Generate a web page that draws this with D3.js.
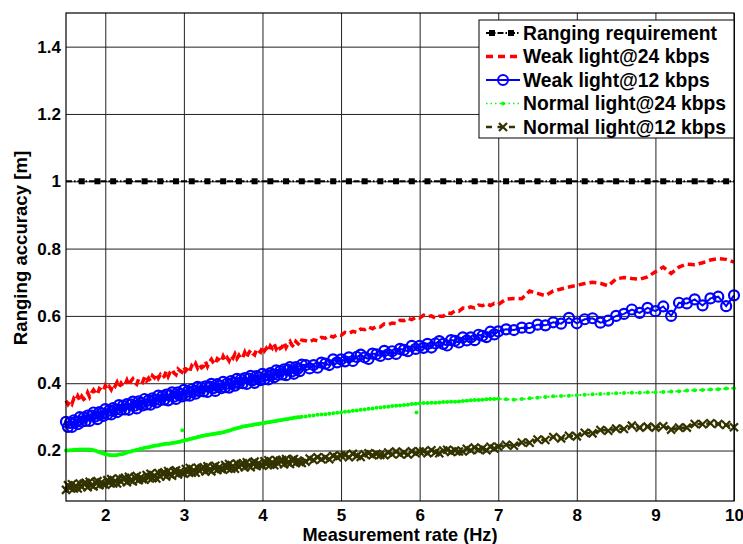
<!DOCTYPE html>
<html>
<head>
<meta charset="utf-8">
<script src="https://cdn.jsdelivr.net/npm/d3@7"></script>
<style>
  body { margin: 0; background: #fff; }
  text { font-family: "Liberation Sans", Arial, sans-serif; font-weight: bold; }
</style>
</head>
<body>
<svg></svg>
<script>
var screen = {width: 743, height: 544}
var margins = {top: 13, right: 9, bottom: 43, left: 66}

// measurement rate (Hz), shared by the four measured series (denser at low rates)
var rate = [1.5,1.525,1.55,1.575,1.6,1.625,1.65,1.675,1.7,1.725,
  1.75,1.775,1.8,1.825,1.85,1.875,1.9,1.925,1.95,1.975,
  2.0,2.025,2.05,2.075,2.1,2.125,2.15,2.175,2.2,2.225,
  2.25,2.275,2.3,2.325,2.35,2.375,2.4,2.425,2.45,2.475,
  2.5,2.525,2.55,2.575,2.6,2.625,2.65,2.675,2.7,2.725,
  2.75,2.775,2.8,2.825,2.85,2.875,2.9,2.925,2.95,2.975,
  3.0,3.025,3.05,3.075,3.1,3.125,3.15,3.175,3.2,3.225,
  3.25,3.275,3.3,3.325,3.35,3.375,3.4,3.425,3.45,3.475,
  3.5,3.525,3.55,3.575,3.6,3.625,3.65,3.675,3.7,3.725,
  3.75,3.775,3.8,3.825,3.85,3.875,3.9,3.925,3.95,3.975,
  4.0,4.025,4.05,4.075,4.1,4.125,4.15,4.175,4.2,4.225,
  4.25,4.275,4.3,4.325,4.35,4.375,4.4,4.425,4.45,4.475,
  4.5,
  4.55,4.6,4.65,4.7,4.75,4.8,4.85,4.9,4.95,5.0,
  5.05,5.1,5.15,5.2,5.25,5.3,5.35,5.4,5.45,5.5,
  5.55,5.6,5.65,5.7,5.75,5.8,5.85,5.9,5.95,6.0,
  6.05,6.1,6.15,6.2,6.25,6.3,6.35,6.4,6.45,6.5,
  6.55,6.6,6.65,6.7,6.75,6.8,6.85,6.9,6.95,7.0,
  7.1,7.2,7.3,7.4,7.5,7.6,7.7,7.8,7.9,8.0,
  8.1,8.2,8.3,8.4,8.5,8.6,8.7,8.8,8.9,9.0,
  9.1,9.2,9.3,9.4,9.5,9.6,9.7,9.8,9.9,10.0]

var weak24 = [0.348,0.337,0.346,0.338,0.355,0.349,0.362,0.349,0.361,0.352,
  0.357,0.372,0.359,0.372,0.380,0.371,0.367,0.384,0.380,0.377,
  0.393,0.382,0.390,0.381,0.397,0.391,0.403,0.390,0.400,0.391,
  0.395,0.409,0.394,0.406,0.413,0.402,0.397,0.413,0.408,0.403,
  0.418,0.407,0.415,0.406,0.422,0.416,0.428,0.415,0.425,0.416,
  0.420,0.435,0.420,0.433,0.440,0.430,0.425,0.442,0.437,0.433,
  0.448,0.437,0.445,0.436,0.452,0.446,0.458,0.445,0.455,0.446,
  0.450,0.465,0.450,0.463,0.471,0.461,0.456,0.473,0.469,0.464,
  0.480,0.468,0.476,0.466,0.482,0.475,0.487,0.473,0.483,0.473,
  0.477,0.492,0.478,0.490,0.498,0.488,0.484,0.501,0.496,0.492,
  0.508,0.496,0.504,0.495,0.511,0.504,0.516,0.502,0.513,0.503,
  0.507,0.521,0.506,0.517,0.524,0.513,0.508,0.524,0.518,0.513,
  0.528,
  0.526,0.523,0.529,0.526,0.536,0.534,0.542,0.537,0.544,0.542,
  0.551,0.548,0.554,0.551,0.561,0.559,0.567,0.562,0.569,0.567,
  0.576,0.574,0.579,0.577,0.587,0.586,0.593,0.589,0.596,0.594,
  0.602,0.598,0.600,0.593,0.599,0.599,0.609,0.607,0.615,0.614,
  0.623,0.622,0.627,0.623,0.632,0.630,0.636,0.631,0.637,0.634,
  0.650,0.652,0.651,0.674,0.667,0.660,0.674,0.680,0.686,0.691,
  0.696,0.700,0.697,0.689,0.710,0.714,0.711,0.709,0.716,0.731,
  0.745,0.726,0.745,0.754,0.752,0.758,0.766,0.770,0.768,0.760]

var weak12 = [0.285,0.270,0.282,0.270,0.290,0.285,0.278,0.299,0.286,0.298,
  0.288,0.304,0.288,0.304,0.313,0.301,0.293,0.314,0.310,0.303,
  0.323,0.308,0.319,0.307,0.326,0.321,0.314,0.335,0.321,0.333,
  0.322,0.338,0.321,0.337,0.345,0.333,0.325,0.346,0.341,0.334,
  0.353,0.337,0.349,0.336,0.355,0.350,0.343,0.363,0.350,0.361,
  0.351,0.366,0.349,0.365,0.373,0.360,0.353,0.373,0.368,0.361,
  0.380,0.364,0.375,0.363,0.382,0.376,0.369,0.389,0.376,0.387,
  0.376,0.391,0.374,0.390,0.398,0.385,0.377,0.397,0.393,0.385,
  0.404,0.388,0.399,0.387,0.406,0.400,0.393,0.413,0.400,0.411,
  0.400,0.415,0.398,0.414,0.422,0.409,0.401,0.421,0.417,0.409,
  0.428,0.412,0.424,0.411,0.430,0.425,0.418,0.438,0.425,0.436,
  0.426,0.441,0.424,0.440,0.448,0.435,0.428,0.448,0.443,0.436,
  0.455,
  0.454,0.444,0.454,0.446,0.461,0.458,0.454,0.471,0.462,0.471,
  0.465,0.477,0.466,0.478,0.485,0.477,0.472,0.488,0.486,0.481,
  0.496,0.486,0.495,0.487,0.502,0.499,0.495,0.511,0.502,0.511,
  0.505,0.517,0.506,0.518,0.525,0.517,0.512,0.528,0.526,0.521,
  0.536,0.527,0.536,0.528,0.544,0.541,0.537,0.553,0.545,0.554,
  0.560,0.558,0.565,0.564,0.574,0.572,0.581,0.577,0.594,0.578,
  0.590,0.593,0.580,0.586,0.600,0.606,0.619,0.609,0.624,0.614,
  0.628,0.600,0.639,0.637,0.649,0.631,0.652,0.657,0.629,0.661]

var normal24 = [0.200,0.200,0.201,0.201,0.202,0.202,0.202,0.203,0.203,0.203,
  0.203,0.203,0.203,0.202,0.201,0.199,0.197,0.195,0.193,0.191,
  0.189,0.188,0.187,0.186,0.186,0.186,0.187,0.188,0.189,0.190,
  0.192,0.194,0.196,0.197,0.199,0.200,0.202,0.203,0.205,0.206,
  0.208,0.209,0.210,0.211,0.213,0.214,0.215,0.216,0.217,0.218,
  0.219,0.220,0.220,0.221,0.222,0.223,0.224,0.225,0.226,0.228,
  0.229,0.231,0.232,0.234,0.235,0.237,0.238,0.240,0.241,0.243,
  0.244,0.245,0.246,0.247,0.248,0.249,0.250,0.251,0.252,0.253,
  0.254,0.256,0.258,0.259,0.261,0.263,0.265,0.266,0.268,0.269,
  0.271,0.272,0.273,0.274,0.275,0.276,0.277,0.278,0.279,0.280,
  0.281,0.282,0.283,0.284,0.285,0.286,0.287,0.288,0.289,0.290,
  0.291,0.292,0.293,0.294,0.295,0.296,0.297,0.298,0.299,0.299,
  0.300,
  0.301,0.303,0.304,0.306,0.307,0.308,0.309,0.311,0.312,0.313,
  0.315,0.316,0.318,0.319,0.321,0.322,0.324,0.325,0.327,0.328,
  0.329,0.330,0.332,0.333,0.334,0.335,0.336,0.338,0.339,0.340,
  0.341,0.341,0.342,0.342,0.343,0.344,0.344,0.345,0.345,0.346,
  0.347,0.348,0.349,0.350,0.350,0.351,0.352,0.353,0.353,0.354,
  0.352,0.351,0.353,0.355,0.357,0.359,0.361,0.362,0.363,0.364,
  0.366,0.367,0.368,0.369,0.370,0.371,0.372,0.372,0.373,0.373,
  0.374,0.375,0.376,0.378,0.379,0.380,0.381,0.382,0.384,0.385]

// two stray samples of the green series
var normal24StrayRate = [2.98, 5.96]
var normal24StrayAcc = [0.260, 0.313]

var normal12 = [0.083,0.097,0.089,0.100,0.087,0.095,0.087,0.102,0.092,0.101,
  0.104,0.091,0.107,0.097,0.093,0.105,0.109,0.097,0.105,0.100,
  0.098,0.112,0.104,0.115,0.102,0.110,0.102,0.117,0.107,0.116,
  0.119,0.106,0.122,0.112,0.108,0.120,0.124,0.112,0.120,0.115,
  0.113,0.127,0.119,0.131,0.118,0.126,0.117,0.133,0.123,0.132,
  0.135,0.123,0.139,0.129,0.125,0.138,0.141,0.129,0.137,0.133,
  0.131,0.145,0.136,0.148,0.134,0.142,0.134,0.149,0.139,0.147,
  0.150,0.138,0.153,0.143,0.138,0.151,0.155,0.142,0.150,0.145,
  0.143,0.157,0.148,0.160,0.146,0.154,0.146,0.161,0.151,0.159,
  0.162,0.150,0.165,0.155,0.150,0.163,0.167,0.154,0.162,0.157,
  0.155,0.168,0.160,0.171,0.158,0.165,0.156,0.172,0.161,0.170,
  0.172,0.159,0.175,0.164,0.160,0.172,0.175,0.163,0.170,0.166,
  0.163,
  0.167,0.176,0.172,0.180,0.174,0.179,0.174,0.184,0.180,0.185,
  0.187,0.180,0.190,0.184,0.181,0.189,0.192,0.186,0.190,0.187,
  0.186,0.194,0.189,0.197,0.189,0.194,0.188,0.198,0.192,0.197,
  0.198,0.192,0.201,0.195,0.192,0.200,0.202,0.196,0.200,0.197,
  0.197,0.205,0.201,0.209,0.202,0.206,0.201,0.211,0.206,0.211,
  0.217,0.214,0.224,0.223,0.233,0.231,0.240,0.236,0.244,0.242,
  0.253,0.251,0.261,0.259,0.265,0.264,0.274,0.268,0.271,0.268,
  0.272,0.262,0.268,0.268,0.279,0.278,0.281,0.279,0.276,0.269]

// ranging requirement: constant 1 m, square markers at these rates
var requirement = 1
var reqRate = [1.7,1.9,2.1,2.3,2.5,2.7,2.9,3.1,3.3,3.5,3.7,3.9,4.1,4.3,4.5,4.7,4.9,
  5.1,5.3,5.5,5.7,5.9,6.1,6.3,6.5,6.7,6.9,7.1,7.3,7.5,7.7,7.9,8.1,8.3,8.5,8.7,8.9,
  9.1,9.3,9.5,9.7,9.9]

var xTicks = [2,3,4,5,6,7,8,9,10]
var yTicks = [0.2,0.4,0.6,0.8,1,1.2,1.4]

var legendNames = ["Ranging requirement","Weak light@24 kbps","Weak light@12 kbps",
  "Normal light@24 kbps","Normal light@12 kbps"]

var width = screen.width - margins.left - margins.right
var height = screen.height - margins.top - margins.bottom

var svg = d3.select("svg")
  .attr("width", screen.width)
  .attr("height", screen.height)

var xScale = d3.scaleLinear().domain([1.5, 10]).range([0, width])
var yScale = d3.scaleLinear().domain([0.05, 1.5]).range([height, 0])

var graph = svg.append("g")
  .attr("id", "graph")
  .attr("transform", "translate(" + margins.left + "," + margins.top + ")")

graph.append("rect")
  .attr("width", width).attr("height", height)
  .attr("fill", "#fff")

// grid lines through the axes
var xAxis = d3.axisBottom(xScale).tickValues(xTicks).tickSize(-height).tickPadding(8)
  .tickFormat(d3.format("d"))
var yAxis = d3.axisLeft(yScale).tickValues(yTicks).tickSize(-width).tickPadding(5)
  .tickFormat(function(d){ return d3.format("")(d) })

graph.append("g")
  .attr("class", "axis")
  .attr("transform", "translate(0," + height + ")")
  .call(xAxis)
graph.append("g")
  .attr("class", "axis")
  .call(yAxis)

graph.selectAll(".axis .domain").remove()
graph.selectAll(".axis line").attr("stroke", "#222").attr("stroke-width", 1)
graph.selectAll(".axis text")
  .attr("fill", "#000")
  .style("font-size", "17px")
  .style("font-weight", "bold")

var line = d3.line()
  .x(function(d){ return xScale(d[0]) })
  .y(function(d){ return yScale(d[1]) })

var pairs = function(ys) { return rate.map(function(r, i){ return [r, ys[i]] }) }

// ranging requirement
graph.append("path")
  .datum([[1.5, requirement], [10, requirement]])
  .attr("d", line)
  .attr("fill", "none").attr("stroke", "#000").attr("stroke-width", 2)
  .attr("stroke-dasharray", "6,2,1.5,2")
graph.selectAll(".req")
  .data(reqRate)
  .enter().append("rect")
  .attr("class", "req")
  .attr("x", function(d){ return xScale(d) - 3 })
  .attr("y", yScale(requirement) - 3)
  .attr("width", 6).attr("height", 6)
  .attr("fill", "#000")

// weak light @ 24 kbps
graph.append("path")
  .datum(pairs(weak24))
  .attr("d", line)
  .attr("fill", "none").attr("stroke", "#ff0000").attr("stroke-width", 3.5)
  .attr("stroke-dasharray", "7,4")

// weak light @ 12 kbps
graph.append("path")
  .datum(pairs(weak12))
  .attr("d", line)
  .attr("fill", "none").attr("stroke", "#0000ff").attr("stroke-width", 2)
graph.selectAll(".w12")
  .data(pairs(weak12))
  .enter().append("circle")
  .attr("class", "w12")
  .attr("cx", function(d){ return xScale(d[0]) })
  .attr("cy", function(d){ return yScale(d[1]) })
  .attr("r", 5)
  .attr("fill", "none").attr("stroke", "#0000ff").attr("stroke-width", 2.2)

// normal light @ 24 kbps
graph.append("path")
  .datum(pairs(normal24))
  .attr("d", line)
  .attr("fill", "none").attr("stroke", "#00ff00").attr("stroke-width", 2)
  .attr("stroke-dasharray", "2,2")
graph.selectAll(".n24")
  .data(pairs(normal24).concat(normal24StrayRate.map(function(r, i){ return [r, normal24StrayAcc[i]] })))
  .enter().append("circle")
  .attr("class", "n24")
  .attr("cx", function(d){ return xScale(d[0]) })
  .attr("cy", function(d){ return yScale(d[1]) })
  .attr("r", 2)
  .attr("fill", "#00ff00")

// normal light @ 12 kbps
var olive = "#333300"
graph.append("path")
  .datum(pairs(normal12))
  .attr("d", line)
  .attr("fill", "none").attr("stroke", olive).attr("stroke-width", 2.5)
  .attr("stroke-dasharray", "6,3")
graph.selectAll(".n12")
  .data(pairs(normal12))
  .enter().append("path")
  .attr("class", "n12")
  .attr("transform", function(d){ return "translate(" + xScale(d[0]) + "," + yScale(d[1]) + ")" })
  .attr("d", "M-4,-4L4,4M-4,4L4,-4")
  .attr("fill", "none").attr("stroke", olive).attr("stroke-width", 2.2)

// frame
graph.append("rect")
  .attr("width", width).attr("height", height)
  .attr("fill", "none").attr("stroke", "#000").attr("stroke-width", 1.2)

// axis titles
svg.append("text")
  .attr("x", margins.left + width / 2)
  .attr("y", 541)
  .attr("text-anchor", "middle")
  .style("font-size", "18.2px")
  .text("Measurement rate (Hz)")
svg.append("text")
  .attr("transform", "translate(27,248) rotate(-90)")
  .attr("text-anchor", "middle")
  .style("font-size", "18.6px")
  .text("Ranging accuracy [m]")

// legend
var legend = svg.append("g").attr("transform", "translate(479,20)")
legend.append("rect")
  .attr("width", 255).attr("height", 118)
  .attr("fill", "#fff").attr("stroke", "#000").attr("stroke-width", 1)

var rows = legend.selectAll(".row")
  .data(legendNames)
  .enter().append("g")
  .attr("class", "row")
  .attr("transform", function(d, i){ return "translate(0," + (13 + i * 23.5) + ")" })

rows.append("text")
  .attr("x", 44).attr("y", 6.5)
  .style("font-size", "19.3px")
  .text(function(d){ return d })

var sym = function(i) { return d3.select(rows.nodes()[i]) }

sym(0).append("line").attr("x1", 7).attr("x2", 41)
  .attr("stroke", "#000").attr("stroke-width", 2).attr("stroke-dasharray", "6,2,1.5,2")
sym(0).selectAll("rect").data([13, 32]).enter().append("rect")
  .attr("x", function(d){ return d - 3 }).attr("y", -3).attr("width", 6).attr("height", 6)
  .attr("fill", "#000")

sym(1).append("line").attr("x1", 7).attr("x2", 41)
  .attr("stroke", "#ff0000").attr("stroke-width", 3.5).attr("stroke-dasharray", "7,5")

sym(2).append("line").attr("x1", 7).attr("x2", 41)
  .attr("stroke", "#0000ff").attr("stroke-width", 2)
sym(2).append("circle").attr("cx", 24).attr("r", 5)
  .attr("fill", "none").attr("stroke", "#0000ff").attr("stroke-width", 2)

sym(3).append("line").attr("x1", 7).attr("x2", 41)
  .attr("stroke", "#00ff00").attr("stroke-width", 1.5).attr("stroke-dasharray", "1.5,3")
sym(3).append("circle").attr("cx", 24).attr("r", 2).attr("fill", "#00ff00")

sym(4).append("line").attr("x1", 7).attr("x2", 41)
  .attr("stroke", olive).attr("stroke-width", 2.5).attr("stroke-dasharray", "6,5.5")
sym(4).append("path").attr("d", "M20,-4L28,4M20,4L28,-4")
  .attr("stroke", olive).attr("stroke-width", 2.2)
</script>
</body>
</html>
